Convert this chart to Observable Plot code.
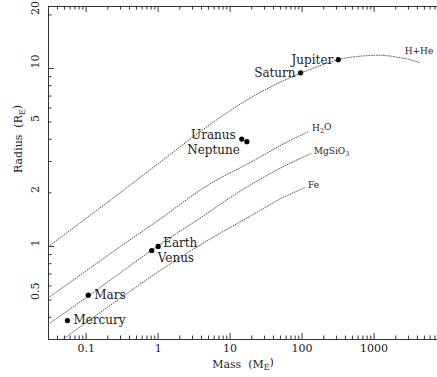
<!DOCTYPE html>
<html>
<head>
<meta charset="utf-8">
<script src="https://cdn.jsdelivr.net/npm/d3@7"></script>
<script src="https://cdn.jsdelivr.net/npm/@observablehq/plot@0.6"></script>
<style>
  html, body { margin: 0; padding: 0; background: #fff; }
</style>
</head>
<body>
<div id="chart"></div>
<script>
// ---- data ----
const xDomain = [0.03, 7600];
const yDomain = [0.3, 22.3];

const planetNames  = ["Mercury", "Venus", "Earth", "Mars", "Jupiter", "Saturn", "Uranus", "Neptune"];
const planetMass   = [0.055, 0.815, 1, 0.107, 317.8, 95.2, 14.5, 17.1];
const planetRadius = [0.383, 0.949, 1, 0.532, 11.21, 9.45, 4.01, 3.88];

const hHeMass     = [0.03, 0.1, 0.42, 1.5, 6.3, 24, 95, 318, 550, 1000, 1500, 2900, 4300];
const hHeRadius   = [1.0, 1.44, 2.23, 3.31, 5.1, 7.2, 9.4, 11.2, 11.65, 11.85, 11.8, 11.3, 10.8];
const h2oMass     = [0.03, 0.3, 1, 5, 18.4, 53, 125];
const h2oRadius   = [0.515, 1.0, 1.40, 2.22, 2.94, 3.74, 4.44];
const mgsio3Mass  = [0.03, 0.107, 0.9, 4, 14.2, 53, 132];
const mgsio3Radius= [0.366, 0.526, 0.98, 1.46, 2.06, 2.79, 3.32];
const feMass      = [0.047, 1, 5.45, 19.6, 51, 110];
const feRadius    = [0.30, 0.72, 1.11, 1.49, 1.86, 2.14];

const curveNames  = ["H+He", "H_{2}O", "MgSiO_{3}", "Fe"];
const xTickLabels = [0.1, 1, 10, 100, 1000];
const yTickLabels = [0.5, 1, 2, 5, 10, 20];
const xTitle = "Mass\u00a0 (M_{E})";
const yTitle = "Radius\u00a0 (R_{E})";

// ---- build tables ----
const planets = planetNames.map((name, i) => ({name, mass: planetMass[i], radius: planetRadius[i]}));
const curveSets = [[hHeMass, hHeRadius], [h2oMass, h2oRadius], [mgsio3Mass, mgsio3Radius], [feMass, feRadius]];
const curves = curveSets.flatMap(([m, r], k) => m.map((v, i) => ({curve: curveNames[k], mass: v, radius: r[i]})));
const curveEnds = curveSets.map(([m, r], k) => ({curve: curveNames[k], mass: m[m.length - 1], radius: r[r.length - 1]}));

const W = 437, H = 377, mL = 48, mR = 0, mT = 6, mB = 38;
const plotW = W - mL - mR, plotH = H - mT - mB;
const majLen = 6, minLen = 3.5;
const isMajor = d => Math.abs(Math.log10(d) - Math.round(Math.log10(d))) < 1e-9;
const xTicks = d3.scaleLog().domain(xDomain).ticks();
const yTicks = d3.scaleLog().domain(yDomain).ticks();
const xMaj = xTicks.filter(isMajor), xMin = xTicks.filter(d => !isMajor(d));
const yMaj = yTicks.filter(isMajor), yMin = yTicks.filter(d => !isMajor(d));

const axisColor = "#333";
const textColor = "#1a1a1a";
const font = "DejaVu Serif";

const plot = Plot.plot({
  width: W, height: H,
  marginLeft: mL, marginRight: mR, marginTop: mT, marginBottom: mB,
  style: {fontFamily: font, fontSize: "11px", color: textColor, background: "#fff"},
  x: {type: "log", domain: xDomain, axis: null},
  y: {type: "log", domain: yDomain, axis: null},
  marks: [
    // frame lines
    Plot.ruleY([yDomain[0]], {stroke: axisColor, strokeWidth: 1}),
    Plot.ruleY([yDomain[1]], {stroke: axisColor, strokeWidth: 1}),
    Plot.ruleX([xDomain[0]], {stroke: axisColor, strokeWidth: 1}),
    // bottom ticks (inward)
    Plot.ruleX(xMaj, {x: d => d, insetTop: plotH - majLen, stroke: axisColor}),
    Plot.ruleX(xMin, {x: d => d, insetTop: plotH - minLen, stroke: axisColor}),
    // top ticks (inward)
    Plot.ruleX(xMaj, {x: d => d, insetBottom: plotH - majLen, stroke: axisColor}),
    Plot.ruleX(xMin, {x: d => d, insetBottom: plotH - minLen, stroke: axisColor}),
    // left ticks (inward)
    Plot.ruleY(yMaj, {y: d => d, insetRight: plotW - majLen, stroke: axisColor}),
    Plot.ruleY(yMin, {y: d => d, insetRight: plotW - minLen, stroke: axisColor}),
    // tick labels
    Plot.text(xTickLabels, {x: d => d, frameAnchor: "bottom", dy: 12, text: d => String(d), fontSize: 11, fill: textColor}),
    Plot.text(yTickLabels, {y: d => d, frameAnchor: "left", dx: -13, rotate: -90, text: d => String(d), fontSize: 11, fill: textColor}),
    // axis titles
    Plot.text([xTitle], {frameAnchor: "bottom", dy: 28, text: d => d, fontSize: 11, fill: textColor}),
    Plot.text([yTitle], {frameAnchor: "left", dx: -30, rotate: -90, text: d => d, fontSize: 11, fill: textColor}),
    // model curves
    Plot.line(curves, {x: "mass", y: "radius", z: "curve", curve: "catmull-rom",
      stroke: "#444", strokeWidth: 0.9, strokeDasharray: "0.9,1.6"}),
    Plot.text(curveEnds.filter(d => d.curve === "H+He"), {x: "mass", y: "radius", text: "curve",
      textAnchor: "start", dx: -15, dy: -11, fontSize: 9, fill: textColor}),
    Plot.text(curveEnds.filter(d => d.curve !== "H+He"), {x: "mass", y: "radius", text: "curve",
      textAnchor: "start", dx: 3, dy: -3, fontSize: 9, fill: textColor}),
    // planets
    Plot.dot(planets, {x: "mass", y: "radius", r: 2.6, fill: "#000", stroke: "none"}),
    Plot.text(planets.filter(d => d.name === "Jupiter" || d.name === "Saturn"), {x: "mass", y: "radius", text: "name",
      textAnchor: "end", dx: -5, dy: 0, fontSize: 12, fill: textColor}),
    Plot.text(planets.filter(d => d.name === "Uranus"), {x: "mass", y: "radius", text: "name",
      textAnchor: "end", dx: -6, dy: -4, fontSize: 12, fill: textColor}),
    Plot.text(planets.filter(d => d.name === "Neptune"), {x: "mass", y: "radius", text: "name",
      textAnchor: "end", dx: -7, dy: 8, fontSize: 12, fill: textColor}),
    Plot.text(planets.filter(d => d.name === "Earth"), {x: "mass", y: "radius", text: "name",
      textAnchor: "start", dx: 5, dy: -3.5, fontSize: 12, fill: textColor}),
    Plot.text(planets.filter(d => d.name === "Venus"), {x: "mass", y: "radius", text: "name",
      textAnchor: "start", dx: 6, dy: 7.5, fontSize: 12, fill: textColor}),
    Plot.text(planets.filter(d => d.name === "Mars" || d.name === "Mercury"), {x: "mass", y: "radius", text: "name",
      textAnchor: "start", dx: 6, dy: 0, fontSize: 12, fill: textColor})
  ]
});

// turn _{...} into real subscripts
d3.select(plot).selectAll("text").each(function() {
  const t = this.textContent;
  if (!t.includes("_{")) return;
  const sel = d3.select(this);
  sel.text(null);
  const parts = t.split(/_\{(.*?)\}/);
  let shifted = false;
  parts.forEach((p, i) => {
    if (p === "") return;
    const ts = sel.append("tspan").text(p);
    if (i % 2 === 1) {
      ts.attr("dy", "0.35em").attr("font-size", "72%");
      shifted = true;
    } else if (shifted) {
      ts.attr("dy", "-0.35em");
      shifted = false;
    }
  });
});

document.getElementById("chart").appendChild(plot);
</script>
</body>
</html>
